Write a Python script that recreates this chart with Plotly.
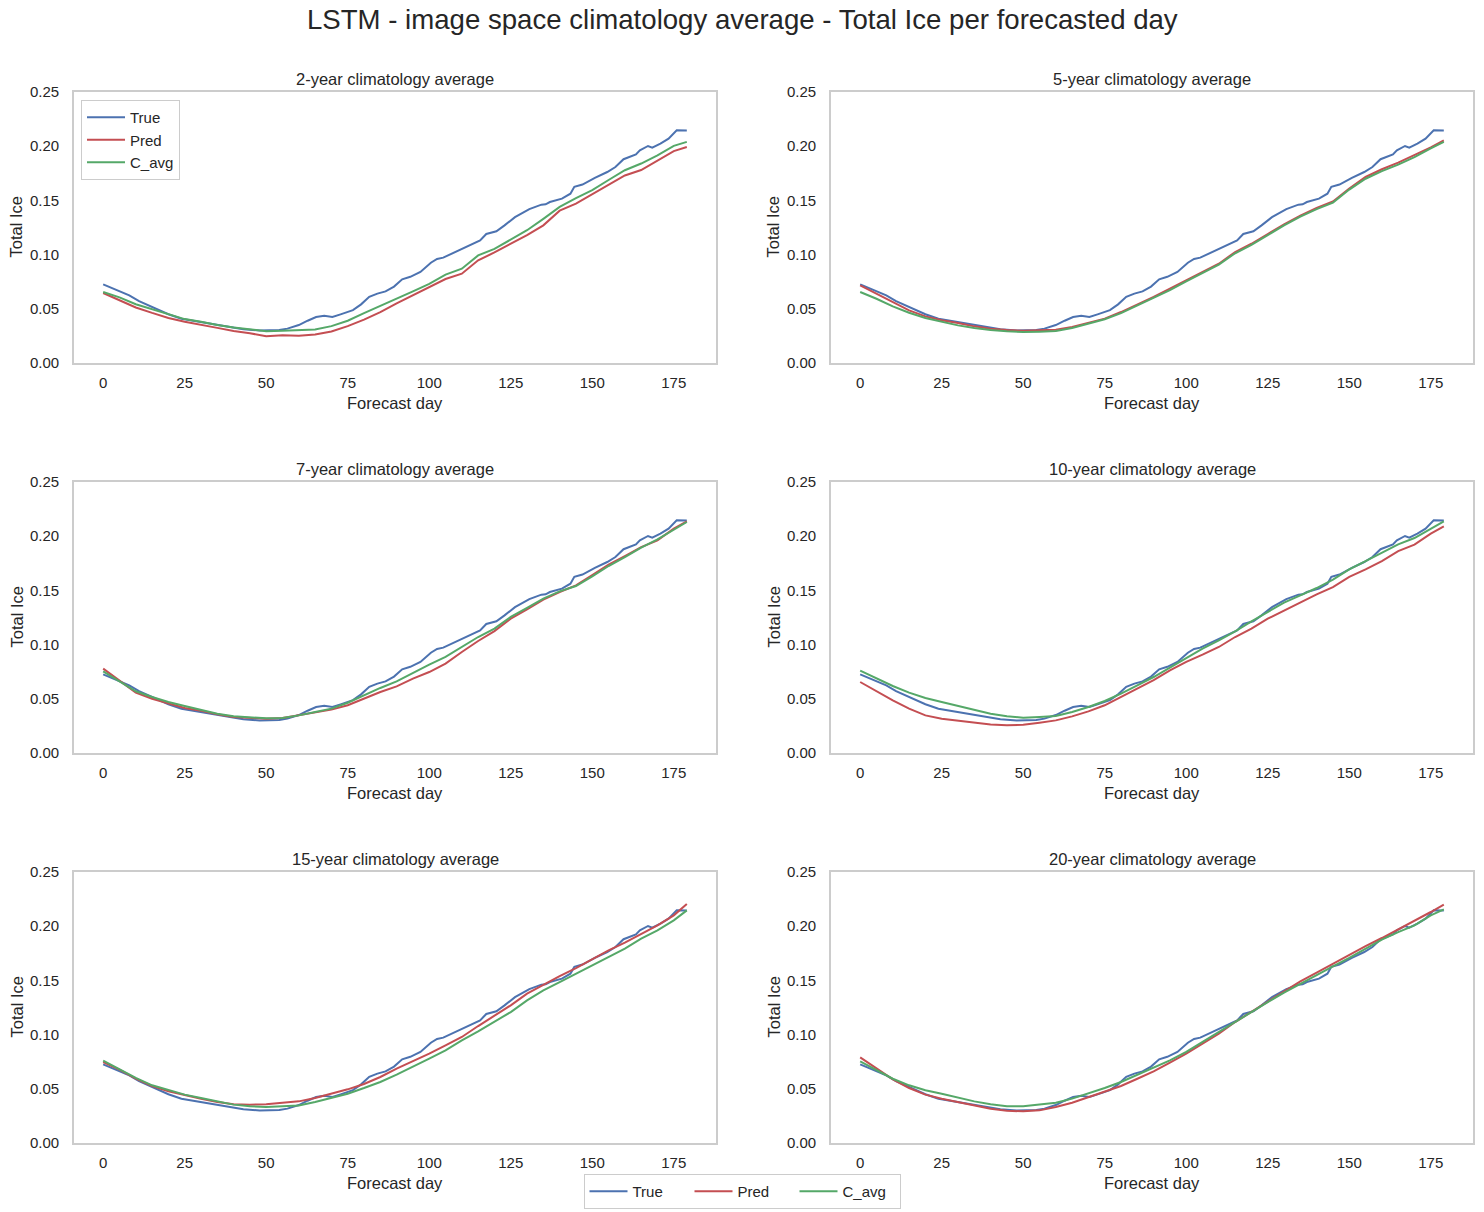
import plotly.graph_objects as go

# ---------------- data ----------------
# observed series (identical in every panel), read at a finer step
true_days = [0, 5, 8, 11, 15, 20, 24, 29, 34, 38, 43, 48, 54, 56.5, 60, 62.7, 65.3,
             67.8, 70.3, 72.8, 76.6, 79.1, 81.6, 84.1, 86.6, 89.2, 91.7, 94.2, 97.3,
             100.5, 102.4, 104.3, 106.8, 109.3, 111.8, 115.6, 117.5, 120.6, 123.1,
             126.3, 130.7, 134.4, 135.7, 137, 140.7, 143.3, 144.5, 147, 150.8, 154.6,
             157.1, 159.6, 163.4, 164.6, 167.1, 168.4, 170.9, 173.4, 175.9, 179]
true_vals = [0.0726, 0.0661, 0.0624, 0.0570, 0.0515, 0.0450, 0.0409, 0.0385, 0.0354,
             0.0338, 0.0312, 0.0299, 0.0304, 0.0317, 0.0350, 0.0390, 0.0424, 0.0435,
             0.0425, 0.0449, 0.0488, 0.0541, 0.0610, 0.0640, 0.0661, 0.0705, 0.0772,
             0.0795, 0.0840, 0.0925, 0.0960, 0.0972, 0.1008, 0.1042, 0.1076, 0.1131,
             0.1190, 0.1215, 0.1270, 0.1345, 0.1420, 0.1461, 0.1464, 0.1485, 0.1516,
             0.1562, 0.1625, 0.1646, 0.1707, 0.1762, 0.1808, 0.1880, 0.1925, 0.1962,
             0.2002, 0.1986, 0.2023, 0.2069, 0.2146, 0.2145]

# model / climatology series, read every 5 days
days = [0, 5, 10, 15, 20, 25, 30, 35, 40, 45, 50, 55, 60, 65, 70, 75, 80, 85, 90,
        95, 100, 105, 110, 115, 120, 125, 130, 135, 140, 145, 150, 155, 160, 165,
        170, 175, 179]

pred_2 = [0.0646, 0.0582, 0.0512, 0.0462, 0.0416, 0.0381, 0.0350, 0.0324, 0.0296,
          0.0275, 0.0246, 0.0255, 0.0252, 0.0262, 0.0290, 0.0340, 0.0400, 0.0470,
          0.0550, 0.0625, 0.0693, 0.0775, 0.0824, 0.0947, 0.1020, 0.1100, 0.1180,
          0.1270, 0.1405, 0.1470, 0.1555, 0.1640, 0.1730, 0.1780, 0.1870, 0.1955,
          0.1993]
cavg_2 = [0.0655, 0.0605, 0.0542, 0.0496, 0.0450, 0.0405, 0.0381, 0.0350, 0.0327,
          0.0308, 0.0293, 0.0297, 0.0302, 0.0310, 0.0340, 0.0390, 0.0460, 0.0525,
          0.0592, 0.0660, 0.0730, 0.0815, 0.0870, 0.0993, 0.1052, 0.1138, 0.1225,
          0.1330, 0.1440, 0.1520, 0.1595, 0.1688, 0.1778, 0.1840, 0.1915, 0.2003,
          0.2040]

pred_5 = [0.0717, 0.0640, 0.0557, 0.0486, 0.0430, 0.0394, 0.0369, 0.0338, 0.0317,
          0.0304, 0.0298, 0.0301, 0.0307, 0.0332, 0.0369, 0.0409, 0.0470, 0.0538,
          0.0609, 0.0686, 0.0763, 0.0840, 0.0916, 0.1024, 0.1100, 0.1190, 0.1280,
          0.1360, 0.1430, 0.1490, 0.1610, 0.1716, 0.1787, 0.1848, 0.1916, 0.1990,
          0.2054]
cavg_5 = [0.0655, 0.0593, 0.0523, 0.0464, 0.0415, 0.0378, 0.0347, 0.0323, 0.0304,
          0.0292, 0.0286, 0.0289, 0.0295, 0.0323, 0.0363, 0.0403, 0.0460, 0.0529,
          0.0600, 0.0673, 0.0753, 0.0830, 0.0907, 0.1012, 0.1090, 0.1180, 0.1270,
          0.1350, 0.1420, 0.1480, 0.1600, 0.1700, 0.1770, 0.1830, 0.1900, 0.1980,
          0.2040]

pred_7 = [0.0778, 0.0665, 0.0557, 0.0500, 0.0455, 0.0415, 0.0390, 0.0357, 0.0332,
          0.0323, 0.0317, 0.0323, 0.0347, 0.0372, 0.0400, 0.0440, 0.0500, 0.0563,
          0.0615, 0.0686, 0.0747, 0.0824, 0.0932, 0.1033, 0.1125, 0.1239, 0.1325,
          0.1415, 0.1485, 0.1547, 0.1640, 0.1737, 0.1817, 0.1900, 0.1962, 0.2070,
          0.2137]
cavg_7 = [0.0753, 0.0661, 0.0569, 0.0517, 0.0470, 0.0434, 0.0400, 0.0363, 0.0338,
          0.0326, 0.0320, 0.0323, 0.0347, 0.0378, 0.0409, 0.0464, 0.0532, 0.0600,
          0.0660, 0.0741, 0.0815, 0.0886, 0.0978, 0.1070, 0.1147, 0.1255, 0.1338,
          0.1424, 0.1491, 0.1540, 0.1630, 0.1725, 0.1808, 0.1894, 0.1970, 0.2063,
          0.2131]

pred_10 = [0.0655, 0.0569, 0.0486, 0.0409, 0.0347, 0.0317, 0.0298, 0.0280, 0.0264,
           0.0255, 0.0261, 0.0280, 0.0301, 0.0338, 0.0384, 0.0440, 0.0517, 0.0600,
           0.0673, 0.0763, 0.0840, 0.0907, 0.0978, 0.1070, 0.1147, 0.1239, 0.1316,
           0.1393, 0.1464, 0.1531, 0.1624, 0.1694, 0.1771, 0.1863, 0.1922, 0.2023,
           0.2091]
cavg_10 = [0.0760, 0.0686, 0.0618, 0.0557, 0.0507, 0.0470, 0.0434, 0.0394, 0.0363,
           0.0338, 0.0326, 0.0332, 0.0341, 0.0378, 0.0424, 0.0480, 0.0547, 0.0624,
           0.0701, 0.0787, 0.0876, 0.0962, 0.1039, 0.1122, 0.1215, 0.1300, 0.1387,
           0.1454, 0.1522, 0.1600, 0.1694, 0.1771, 0.1848, 0.1925, 0.1983, 0.2070,
           0.2137]

pred_15 = [0.0747, 0.0677, 0.0593, 0.0526, 0.0477, 0.0440, 0.0409, 0.0378, 0.0357,
           0.0354, 0.0357, 0.0372, 0.0384, 0.0415, 0.0455, 0.0495, 0.0544, 0.0609,
           0.0686, 0.0753, 0.0824, 0.0901, 0.0978, 0.1079, 0.1178, 0.1270, 0.1378,
           0.1461, 0.1540, 0.1614, 0.1694, 0.1777, 0.1848, 0.1931, 0.2008, 0.2100,
           0.2205]
cavg_15 = [0.0760, 0.0680, 0.0600, 0.0532, 0.0486, 0.0446, 0.0415, 0.0384, 0.0354,
           0.0338, 0.0332, 0.0338, 0.0347, 0.0378, 0.0415, 0.0455, 0.0507, 0.0563,
           0.0630, 0.0701, 0.0778, 0.0855, 0.0947, 0.1030, 0.1122, 0.1208, 0.1316,
           0.1408, 0.1485, 0.1562, 0.1645, 0.1716, 0.1793, 0.1885, 0.1962, 0.2054,
           0.2146]

pred_20 = [0.0790, 0.0686, 0.0587, 0.0507, 0.0446, 0.0409, 0.0378, 0.0347, 0.0317,
           0.0298, 0.0292, 0.0301, 0.0332, 0.0372, 0.0421, 0.0470, 0.0526, 0.0593,
           0.0661, 0.0741, 0.0824, 0.0916, 0.1009, 0.1116, 0.1208, 0.1300, 0.1400,
           0.1491, 0.1571, 0.1654, 0.1731, 0.1817, 0.1891, 0.1971, 0.2045, 0.2131,
           0.2199]
cavg_20 = [0.0753, 0.0673, 0.0593, 0.0532, 0.0486, 0.0455, 0.0418, 0.0384, 0.0357,
           0.0338, 0.0338, 0.0354, 0.0372, 0.0409, 0.0455, 0.0507, 0.0563, 0.0630,
           0.0692, 0.0763, 0.0840, 0.0932, 0.1024, 0.1116, 0.1215, 0.1300, 0.1387,
           0.1470, 0.1553, 0.1630, 0.1707, 0.1793, 0.1876, 0.1946, 0.2008, 0.2100,
           0.2156]

panel_titles = ["2-year climatology average", "5-year climatology average",
                "7-year climatology average", "10-year climatology average",
                "15-year climatology average", "20-year climatology average"]
pred_series = [pred_2, pred_5, pred_7, pred_10, pred_15, pred_20]
cavg_series = [cavg_2, cavg_5, cavg_7, cavg_10, cavg_15, cavg_20]

x_ticks = [0, 25, 50, 75, 100, 125, 150, 175]
y_ticks = [0.00, 0.05, 0.10, 0.15, 0.20, 0.25]
y_ticktext = ["0.00", "0.05", "0.10", "0.15", "0.20", "0.25"]

main_title = "LSTM - image space climatology average - Total Ice per forecasted day"
series_names = ["True", "Pred", "C_avg"]

# ---------------- styling ----------------
W, H = 1484, 1212
FONT = "Liberation Sans, Arial, sans-serif"
TXT = "#262626"
COLORS = ["#4C72B0", "#C44E52", "#55A868"]
FRAME = "#cccccc"

col_px = [(74, 716), (831, 1473)]
row_px = [(92, 363), (482, 753), (872, 1143)]


def px_x(x):
    return x / W


def px_y(y):
    return 1 - y / H


fig = go.Figure()
annotations = []
layout_axes = {}

for i in range(6):
    r, c = divmod(i, 2)
    x0, x1 = col_px[c]
    y0, y1 = row_px[r]
    xa = "x" if i == 0 else f"x{i+1}"
    ya = "y" if i == 0 else f"y{i+1}"
    xkey = "xaxis" if i == 0 else f"xaxis{i+1}"
    ykey = "yaxis" if i == 0 else f"yaxis{i+1}"

    layout_axes[xkey] = dict(
        domain=[px_x(x0), px_x(x1)], anchor=ya, range=[-8.95, 187.95],
        tickmode="array", tickvals=x_ticks, showgrid=False, zeroline=False,
        showline=True, mirror=True, linecolor=FRAME, linewidth=1.7, ticks="",
        automargin=False,
        ticklabelstandoff=5, tickfont=dict(family=FONT, size=15, color=TXT),
    )
    layout_axes[ykey] = dict(
        domain=[px_y(y1), px_y(y0)], anchor=xa, range=[0, 0.25],
        tickmode="array", tickvals=y_ticks, ticktext=y_ticktext,
        showgrid=False, zeroline=False, showline=True, mirror=True,
        linecolor=FRAME, linewidth=1.7, ticks="", automargin=False,
        ticklabelstandoff=10, tickfont=dict(family=FONT, size=15, color=TXT),
    )

    xs = [true_days, days, days]
    ys = [true_vals, pred_series[i], cavg_series[i]]
    for k in range(3):
        if i == 0:
            leg = dict(showlegend=True, legend="legend")
        elif i == 5:
            leg = dict(showlegend=True, legend="legend2")
        else:
            leg = dict(showlegend=False)
        fig.add_trace(go.Scatter(
            x=xs[k], y=ys[k], mode="lines", name=series_names[k],
            line=dict(color=COLORS[k], width=2), xaxis=xa, yaxis=ya,
            hoverinfo="skip", **leg))

    xc = (x0 + x1) / 2
    annotations.append(dict(
        text=panel_titles[i], x=px_x(xc), y=px_y(y0 - 13), xref="paper",
        yref="paper", xanchor="center", yanchor="middle", showarrow=False,
        font=dict(family=FONT, size=16.5, color=TXT)))
    annotations.append(dict(
        text="Forecast day", x=px_x(xc), y=px_y(y1 + 40), xref="paper",
        yref="paper", xanchor="center", yanchor="middle", showarrow=False,
        font=dict(family=FONT, size=16.5, color=TXT)))
    annotations.append(dict(
        text="Total Ice", x=px_x(x0 - 58), y=px_y((y0 + y1) / 2), xref="paper",
        yref="paper", xanchor="center", yanchor="middle", showarrow=False,
        textangle=-90, font=dict(family=FONT, size=16.5, color=TXT)))

annotations.append(dict(
    text=main_title, x=0.5, y=px_y(20), xref="paper", yref="paper",
    xanchor="center", yanchor="middle", showarrow=False,
    font=dict(family=FONT, size=27.6, color=TXT)))

fig.update_layout(
    width=W, height=H, margin=dict(l=0, r=0, t=0, b=0, pad=0),
    paper_bgcolor="white", plot_bgcolor="white",
    font=dict(family=FONT, size=15, color=TXT),
    annotations=annotations,
    legend=dict(x=px_x(81), y=px_y(100), xanchor="left", yanchor="top",
                bordercolor=FRAME, borderwidth=1, bgcolor="rgba(255,255,255,0.8)",
                font=dict(family=FONT, size=15, color=TXT), itemwidth=38,
                tracegroupgap=0),
    legend2=dict(x=0.5, y=px_y(1191.5), xanchor="center", yanchor="middle",
                 orientation="h", bordercolor=FRAME, borderwidth=1,
                 bgcolor="white", entrywidth=52, entrywidthmode="pixels",
                 font=dict(family=FONT, size=15, color=TXT), itemwidth=38),
    **layout_axes,
)

fig.write_html("out.html", config={"displayModeBar": False},
               post_script="document.body.style.margin='0';")
